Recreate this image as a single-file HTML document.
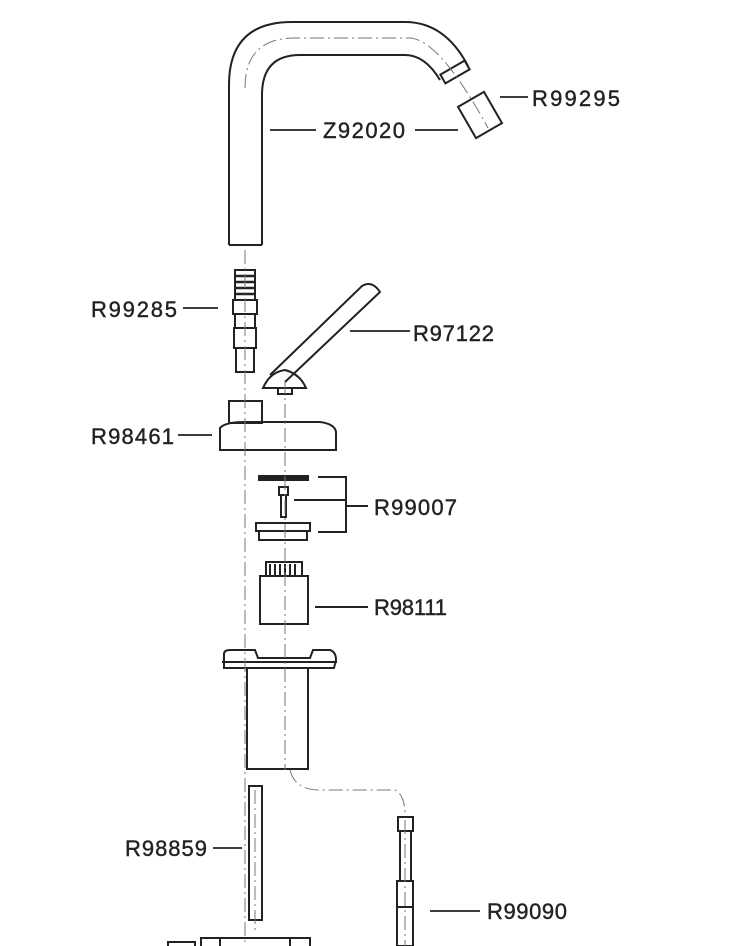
<!DOCTYPE html>
<html><head><style>html,body{margin:0;background:#fff}svg{display:block}</style></head><body>
<svg width="746" height="946" viewBox="0 0 746 946" xmlns="http://www.w3.org/2000/svg" font-family="Liberation Sans, sans-serif">
<g fill="none" stroke="#222" stroke-width="2">
<path d="M229,245 L229,85 Q229,22 292,22 L405,22 Q445,22 468,66"/>
<path d="M262,245 L262,95 Q262,55 300,55 L405,55 Q425,55 440,80"/>
<path d="M229,245 L262,245"/>
<g transform="translate(455,72) rotate(-30)"><rect x="-14" y="-5" width="28" height="10"/></g>
<g transform="translate(480,115) rotate(-30)"><rect x="-15" y="-18" width="30" height="36"/></g>
<rect x="235" y="270" width="20" height="30"/>
<path d="M236,276h18M236,282h18M236,288h18M236,294h18" stroke-width="2.5"/>
<rect x="233" y="300" width="24" height="14"/>
<rect x="235" y="314" width="20" height="14"/>
<rect x="234" y="328" width="22" height="20"/>
<rect x="236" y="348" width="18" height="24"/>
<path d="M270,375 L362,286 Q372,280 380,292 L285,382"/>
<path d="M263,388 Q270,372 285,370 Q300,374 306,388 Z"/>
<rect x="278" y="388" width="14" height="6"/>
<rect x="229" y="401" width="33" height="22"/>
<path d="M220,450 L220,428 Q225,422 245,422 L320,422 Q335,424 336,432 L336,450 Z"/>
<rect x="259" y="476" width="49" height="4" fill="#222"/>
<rect x="279" y="487" width="9" height="8"/>
<rect x="281" y="495" width="5" height="22"/>
<rect x="256" y="523" width="54" height="8"/>
<rect x="259" y="531" width="48" height="9"/>
<path d="M318,477H346V532H318M294,500H346M346,506H368"/>
<rect x="266" y="562" width="36" height="14"/>
<path d="M270,564v12M275,564v12M280,564v12M285,564v12M290,564v12M295,564v12"/>
<rect x="260" y="576" width="48" height="48"/>
<path d="M315,607H368"/>
<path d="M224,660 L224,654 Q224,650 230,650 L255,650 L258,658 L310,658 L313,650 L330,650 Q336,652 336,660 L334,668 L224,668 Z"/>
<path d="M222,662H337"/>
<rect x="247" y="668" width="61" height="101"/>
<rect x="249" y="786" width="13" height="134"/>
<rect x="398" y="817" width="15" height="14"/>
<rect x="400" y="831" width="11" height="50"/>
<rect x="397" y="881" width="16" height="26"/>
<rect x="397" y="907" width="16" height="39"/>
<path d="M168,946V942H195V946M201,946V938H310V946M220,938V946M290,938V946"/>
<path d="M500,97H528M270,130H316M415,130H458M183,308H218M350,331H410M178,435H212M213,848H242M430,911H480" stroke-width="1.8"/>
</g>
<g fill="none" stroke="#777" stroke-width="1" stroke-dasharray="14,4,2,4">
<path d="M245,88 Q245,38 295,38 L410,38 Q440,40 488,128"/>
<path d="M245,250V946"/>
<path d="M285,380V770"/>
<path d="M255,790V930"/>
<path d="M290,770 Q295,790 320,790 L395,790 Q405,795 405,815"/>
<path d="M405,820V946"/>
</g>
<g font-size="22" fill="#222" stroke="#222" stroke-width="0.4" lengthAdjust="spacing">
<text x="323" y="138" textLength="82">Z92020</text>
<text x="532" y="106" textLength="88">R99295</text>
<text x="91" y="317" textLength="86">R99285</text>
<text x="413" y="341" textLength="81">R97122</text>
<text x="91" y="444" textLength="83">R98461</text>
<text x="374" y="515" textLength="83">R99007</text>
<text x="374" y="615" textLength="73">R98111</text>
<text x="125" y="856" textLength="82">R98859</text>
<text x="487" y="919" textLength="80">R99090</text>
</g>
</svg>
</body></html>
